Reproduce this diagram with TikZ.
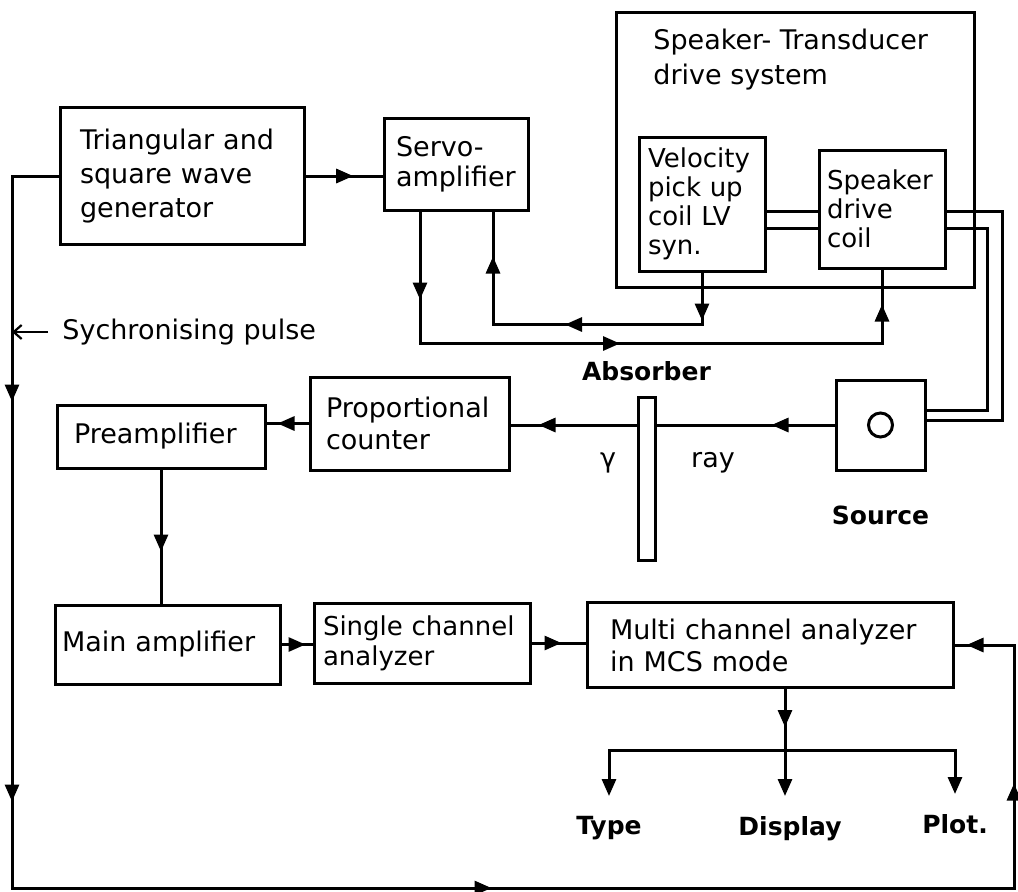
\documentclass[tikz,border=0pt]{standalone}
\usepackage{fontspec}
\setmainfont{DejaVu Sans}
\usetikzlibrary{arrows.meta, decorations.markings, positioning, calc}
\newcommand\boxfont{\fontsize{13.5}{16}\selectfont}
\newcommand\coilfont{\fontsize{13}{14.5}\selectfont}
\newcommand\labelfont{\fontsize{12.5}{14}\selectfont\bfseries}
\hyphenpenalty=10000
\exhyphenpenalty=10000

\begin{document}
\begin{tikzpicture}[x=0.5pt, y=-0.5pt,
    block/.style={draw, line width=1.5pt, align=left, font=\boxfont, inner ysep=0pt},
    wire/.style={line width=1.5pt},
    midtip/.style={postaction={decorate, decoration={markings, mark=at position #1 with {\arrow{Triangle[length=8.5pt, width=7pt]}}}}},
    endtip/.style={-{Triangle[length=8.5pt, width=7pt]}, shorten >=8pt},
    lbl/.style={font=\labelfont, inner sep=2pt},
    txt/.style={font=\boxfont, inner sep=2pt}
]
    \useasboundingbox (0,0) rectangle (1018,891);

    % blocks
    \node[block, minimum width=122pt, minimum height=68.5pt, inner xsep=10pt, text width=102pt, font=\fontsize{13.5}{17}\selectfont] (tri) at (182,176) {Triangular and\\square wave\\generator};
    \node[block, minimum width=72pt, minimum height=46pt, inner xsep=6pt, text width=60pt, font=\fontsize{13.5}{15}\selectfont] (servo) at (456,164) {Servo-\\amplifier};
    \node[draw, line width=1.5pt, minimum width=179pt, minimum height=137.5pt] (drive) at (795,149.5) {};
    \node[txt, anchor=north west, align=left, font=\fontsize{13.5}{17.5}\selectfont] (drivetitle) at (649,25) {Speaker- Transducer\\drive system};
    \node[block, font=\coilfont, minimum width=63pt, minimum height=67pt, inner xsep=4.5pt, text width=54pt] (vel) at (702,204) {Velocity\\pick up\\coil LV\\syn.};
    \node[block, font=\coilfont, minimum width=63pt, minimum height=59pt, inner xsep=4pt, text width=55pt] (spk) at (882,209) {Speaker\\drive\\coil};
    \node[block, minimum width=99.5pt, minimum height=46.5pt, inner xsep=8pt, text width=83.5pt] (prop) at (409.5,423.5) {Proportional\\counter};
    \node[block, minimum width=104pt, minimum height=31.5pt, inner xsep=8.5pt, text width=87pt] (pre) at (161,436.5) {Preamplifier};
    \node[block, minimum width=112.5pt, minimum height=39.5pt, inner xsep=3.5pt, text width=105.5pt] (main) at (167.5,644.5) {Main amplifier};
    \node[block, minimum width=108pt, minimum height=40pt, inner xsep=4.5pt, text width=99pt, font=\fontsize{13}{15}\selectfont] (sca) at (422,643) {Single channel\\analyzer};
    \node[block, minimum width=183pt, minimum height=42.5pt, inner xsep=11.5pt, text width=160pt] (mca) at (770,645) {Multi channel analyzer\\in MCS mode};
    \node[draw, line width=1.5pt, minimum width=44.5pt, minimum height=45pt] (src) at (880.5,425) {};
    \node[circle, draw, line width=1.5pt, minimum size=12pt, inner sep=0pt] (hole) at (src.center) {};

    % corner points
    \coordinate (lb) at (12,888);
    \coordinate (rb) at (1014,888);
    \coordinate (sp) at (12,332);
    \coordinate (w1) at (0,211);
    \coordinate (w2) at (0,228);
    \coordinate (w3) at (0,410);
    \coordinate (w4) at (0,420);
    \coordinate (c1) at (1002,0);
    \coordinate (c2) at (987,0);
    \coordinate (br) at (785,750);

    % servo loop
    \draw[wire, midtip=0.62] (tri.east) -- (tri.east -| servo.west);
    \draw[wire, midtip=44pt, midtip=166pt, midtip=316.5pt] ($(servo.south)+(-36,0)$) -- ++(0,132) -| (spk.south);
    \draw[wire, midtip=24pt, midtip=94.5pt, midtip=164.5pt] (vel.south) -- ++(0,52) -| ($(servo.south)+(37,0)$);
    \draw[wire] (vel.east |- w1) -- (spk.west |- w1);
    \draw[wire] (vel.east |- w2) -- (spk.west |- w2);
    \draw[wire] (spk.east |- w1) -| (c1 |- w4) -- (src.east |- w4);
    \draw[wire] (spk.east |- w2) -| (c2 |- w3) -- (src.east |- w3);

    % gamma ray path
    \draw[wire, midtip=31.5pt, midtip=148pt] (src.west) -- (src.west -| prop.east);
    \node[draw, fill=white, line width=1.5pt, minimum width=8.5pt, minimum height=81.5pt, inner sep=0pt] (absb) at (646.5,478.5) {};
    \node[lbl, above=5pt of absb] (absbl) {Absorber};
    \node[lbl, below=15pt of src] (srcl) {Source};
    \node[txt] (gam) at (608,463) {γ};
    \node[txt] (ray) at (713,463) {ray};

    % counting chain
    \draw[wire, midtip=15.5pt] (prop.west) -- (prop.west -| pre.east);
    \draw[wire, midtip=41pt] (pre.south) -- (pre.south |- main.north);
    \draw[wire, midtip=12pt] (main.east) -- (main.east -| sca.west);
    \draw[wire, midtip=15pt] (sca.east) -- (sca.east -| mca.west);

    % outputs
    \node[lbl, anchor=north] (typ) at (609,812) {Type};
    \node[lbl, anchor=north] (disp) at (790,812) {Display};
    \node[lbl, anchor=north] (plot) at (955,810) {Plot.};
    \draw[wire, midtip=19pt] (mca.south -| br) -- (br);
    \draw[wire, endtip] (br) -| (typ.north);
    \draw[wire, endtip] (br) -- (br |- disp.north);
    \draw[wire, endtip] (br) -| (plot.north);

    % synchronising loop
    \draw[wire, midtip=136pt, midtip=336pt, midtip=619pt, midtip=932.5pt, midtip=1025.5pt] (tri.west) -| (lb) -- (rb) |- (mca.east);
    \node[txt, anchor=west] (sync) at (58,332) {Sychronising pulse};
    \draw[line width=1.1pt, -{Straight Barb[length=4pt, width=7pt]}, shorten <=5pt] (sync.west) -- (sp);
\end{tikzpicture}
\end{document}
